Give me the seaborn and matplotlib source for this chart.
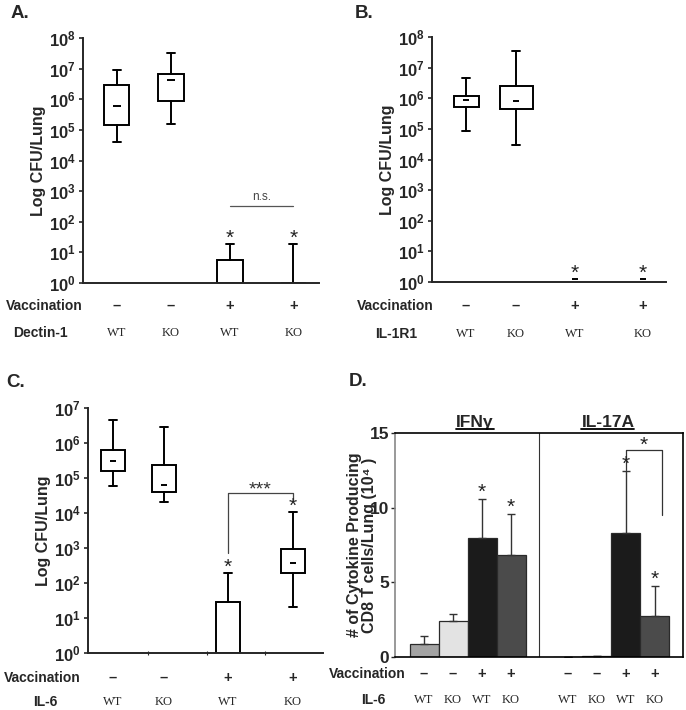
import numpy as np
import pandas as pd
import matplotlib
matplotlib.use('Agg')
import matplotlib.pyplot as plt
import matplotlib.transforms as mtrans
from matplotlib.ticker import LogLocator, FuncFormatter, NullLocator, FixedLocator
import seaborn as sns

sns.set_style('ticks')
plt.rcParams['font.family'] = ['Liberation Sans', 'DejaVu Sans']
plt.rcParams['mathtext.fontset'] = 'custom'
plt.rcParams['mathtext.rm'] = 'Liberation Sans:bold'
plt.rcParams['mathtext.bf'] = 'Liberation Sans:bold'
plt.rcParams['mathtext.it'] = 'Liberation Sans:bold:italic'

# ---- data ----
vaccination = ['–', '–', '+', '+']
genotype = ['WT', 'KO', 'WT', 'KO']

# A. Dectin-1 (CFU/lung, box summaries)
a_q1 = [1.4e5, 8.7e5, 1.0, 1.0]
a_q3 = [3.0e6, 6.8e6, 5.8, 1.0]
a_med = [6.2e5, 4.1e6, np.nan, np.nan]
a_lo = [4.0e4, 1.6e5, 1.0, 1.0]
a_hi = [8.7e6, 3.3e7, 19, 19]
a_star = [False, False, True, True]
a_ns_level = 330

# B. IL-1R1
b_q1 = [5.2e5, 4.6e5, np.nan, np.nan]
b_q3 = [1.2e6, 2.6e6, np.nan, np.nan]
b_med = [9.0e5, 8.0e5, 1.3, 1.3]
b_lo = [8.5e4, 2.9e4, np.nan, np.nan]
b_hi = [4.6e6, 3.6e7, np.nan, np.nan]
b_star = [False, False, True, True]

# C. IL-6
c_q1 = [1.6e5, 4.0e4, 1.0, 195]
c_q3 = [6.3e5, 2.3e5, 29, 930]
c_med = [3.1e5, 6.2e4, np.nan, 370]
c_lo = [5.9e4, 2.0e4, 1.0, 20]
c_hi = [4.5e6, 2.8e6, 195, 1.07e4]
c_star = [False, False, True, True]
c_bracket = [720, 3.7e4, 2.3e4]

# D. cytokine producing CD8 T cells (x10^4)
d_cytokine = ['IFNγ'] * 4 + ['IL-17A'] * 4
d_mean = [0.87, 2.43, 8.0, 6.85, 0.03, 0.05, 8.28, 2.77]
d_err = [0.56, 0.47, 2.58, 2.75, 0.0, 0.04, 4.15, 2.0]
d_star = [False, False, True, True, False, False, True, True]
d_colors = ['#a3a3a3', '#e3e3e3', '#1b1b1b', '#4b4b4b'] * 2
d_bracket = [12.5, 13.85, 9.5]

# ---- layout helpers (pixel based) ----
W, H = 686, 710
fig = plt.figure(figsize=(W / 100, H / 100), dpi=100)


def rect(l, t, r, b):
    return [l / W, 1 - b / H, (r - l) / W, (b - t) / H]


def fx(x):
    return x / W


def fy(y):
    return 1 - y / H


def row_labels(ax, pos, y_v, y_g, gene, xv, xg):
    tr = mtrans.blended_transform_factory(ax.transData, fig.transFigure)
    for p, v, g in zip(pos, vaccination * (len(pos) // 4), genotype * (len(pos) // 4)):
        ax.text(p, fy(y_v), v, transform=tr, ha='center', va='center',
                fontsize=10.5, fontweight='bold')
        ax.text(p, fy(y_g), g, transform=tr, ha='center', va='center',
                fontsize=9, family='Liberation Serif')
    fig.text(fx(xv), fy(y_v), 'Vaccination', ha='center', va='center',
             fontsize=10, fontweight='bold')
    fig.text(fx(xg), fy(y_g), gene, ha='center', va='center',
             fontsize=10, fontweight='bold')


def cfu_panel(ax, pos, widths, q1, q3, med, lo, hi, star, top, med_size):
    stats, keep = [], []
    for i in range(len(pos)):
        if np.isnan(q1[i]):
            continue
        stats.append(dict(med=med[i], q1=q1[i], q3=q3[i],
                          whislo=lo[i], whishi=hi[i]))
        keep.append(i)
    lw = 1.4
    ax.bxp(stats, positions=[pos[i] for i in keep],
           widths=[widths[i] for i in keep], showfliers=False,
           patch_artist=True, manage_ticks=False,
           capwidths=[0.15] * len(keep),
           boxprops=dict(facecolor='white', edgecolor='black', linewidth=lw),
           whiskerprops=dict(color='black', linewidth=lw),
           capprops=dict(color='black', linewidth=lw),
           medianprops=dict(linewidth=0))
    ax.scatter(pos, med, marker='_', s=med_size, color='black',
               linewidths=1.4, zorder=5)
    ax.set_yscale('log')
    ax.set_ylim(1, top)
    ax.set_xlim(0, 4.4)
    ax.yaxis.set_major_locator(LogLocator(base=10, numticks=20))
    ax.yaxis.set_minor_locator(NullLocator())
    ax.yaxis.set_major_formatter(
        FuncFormatter(lambda v, p: r'$\mathrm{10^{%d}}$' % round(np.log10(v))))
    ax.tick_params(axis='y', length=3, width=1.2, pad=2, labelsize=12)
    ax.set_xticks([])
    sns.despine(ax=ax)
    for s in ['left', 'bottom']:
        ax.spines[s].set_linewidth(1.4)
    ax.set_ylabel('Log CFU/Lung', fontsize=11.5, fontweight='bold', labelpad=2)
    for p, h, m, st in zip(pos, hi, med, star):
        if st:
            y = h if not np.isnan(h) else m
            ax.annotate('*', xy=(p, y), xytext=(0, -3), textcoords='offset points',
                        ha='center', va='bottom', fontsize=15, color='#222')


# ---- A ----
axA = fig.add_axes(rect(83, 38, 319, 283))
posA = [0.63, 1.64, 2.74, 3.92]
cfu_panel(axA, posA, [0.47] * 4, a_q1, a_q3, a_med, a_lo, a_hi, a_star, 1e8, 30)
axA.plot([posA[2], posA[3]], [a_ns_level] * 2, color='#555555', lw=0.9)
axA.annotate('n.s.', xy=((posA[2] + posA[3]) / 2, a_ns_level), xytext=(0, 2),
             textcoords='offset points', ha='center', va='bottom',
             fontsize=8.5, color='#444444')
row_labels(axA, posA, 306, 333, 'Dectin-1', 44, 40)
fig.text(fx(20), fy(14), 'A.', fontsize=13.5, fontweight='bold', ha='center', va='center')

# ---- B ----
axB = fig.add_axes(rect(432, 37, 666, 282))
posB = [0.64, 1.58, 2.69, 3.97]
cfu_panel(axB, posB, [0.47, 0.62, 0.47, 0.47], b_q1, b_q3, b_med, b_lo, b_hi,
          b_star, 1e8, 18)
row_labels(axB, posB, 306, 334, 'IL-1R1', 395, 396)
fig.text(fx(364), fy(14), 'B.', fontsize=13.5, fontweight='bold', ha='center', va='center')

# ---- C ----
axC = fig.add_axes(rect(88, 408, 323, 653))
posC = [0.47, 1.42, 2.62, 3.84]
cfu_panel(axC, posC, [0.45] * 4, c_q1, c_q3, c_med, c_lo, c_hi, c_star, 1e7, 14)
axC.xaxis.set_minor_locator(FixedLocator([1.12, 2.23, 3.31]))
axC.tick_params(axis='x', which='minor', length=3, width=0.8, direction='inout')
axC.plot([posC[2], posC[2], posC[3], posC[3]],
         [c_bracket[0], c_bracket[1], c_bracket[1], c_bracket[2]],
         color='#444444', lw=0.9)
axC.annotate('***', xy=((posC[2] + posC[3]) / 2, c_bracket[1]), xytext=(0, -4),
             textcoords='offset points', ha='center', va='bottom',
             fontsize=14, color='#333333')
row_labels(axC, posC, 678, 702, 'IL-6', 42, 45)
fig.text(fx(16), fy(383), 'C.', fontsize=13.5, fontweight='bold', ha='center', va='center')

# ---- D ----
axD = fig.add_axes(rect(395, 433, 683, 657))
posD = [1, 2, 3, 4, 5.95, 6.95, 7.95, 8.95]
dfD = pd.DataFrame({'pos': posD, 'mean': d_mean, 'err': d_err,
                    'cytokine': d_cytokine,
                    'bar': ['b%d' % i for i in range(len(posD))]})
sns.barplot(data=dfD, x='pos', y='mean', hue='bar',
            palette=dict(zip(dfD['bar'], d_colors)), native_scale=True,
            width=1, errorbar=None, legend=False, edgecolor='#2a2a2a',
            linewidth=0.9, ax=axD)
axD.errorbar(dfD['pos'], dfD['mean'], yerr=[np.zeros(len(posD)), dfD['err']],
             fmt='none', ecolor='#333333', elinewidth=1.0, capsize=3, capthick=1.0)
for p, m, e, st in zip(posD, d_mean, d_err, d_star):
    if st:
        axD.annotate('*', xy=(p, m + e), xytext=(0, -2), textcoords='offset points',
                     ha='center', va='bottom', fontsize=15, color='#222')
xb = [posD[6], posD[6], 9.2, 9.2]
axD.plot(xb, [d_bracket[0], d_bracket[1], d_bracket[1], d_bracket[2]],
         color='#333333', lw=0.9)
axD.annotate('*', xy=((posD[6] + 9.2) / 2, d_bracket[1]), xytext=(0, -3),
             textcoords='offset points', ha='center', va='bottom', fontsize=15,
             color='#222')
axD.axvline(4.97, color='#333333', lw=0.8)
axD.set_xlim(0, 9.93)
axD.set_ylim(0, 15)
axD.set_yticks([0, 5, 10, 15])
axD.set_xticks([])
axD.set_xlabel('')
axD.tick_params(axis='y', length=3, width=1.0, pad=1, labelsize=12.5)
for t in axD.get_yticklabels():
    t.set_fontweight('bold')
for s in axD.spines.values():
    s.set_linewidth(1.2)
    s.set_color('black')
axD.spines['left'].set_color('#888888')
axD.set_ylabel('# of Cytokine Producing\nCD8 T cells/Lung (10⁴ )', fontsize=11.5,
               fontweight='bold', linespacing=1.0)
axD.yaxis.set_label_coords(-0.062, 0.5)
titles = []
for name, cx in [('IFNγ', 2.76), ('IL-17A', 7.34)]:
    titles.append(axD.text(cx, 15.7, name, ha='center', va='center',
                           fontsize=12.5, fontweight='bold'))
row_labels(axD, posD, 674, 700, 'IL-6', 367, 373)
fig.text(fx(358), fy(382), 'D.', fontsize=13.5, fontweight='bold', ha='center', va='center')

# underline the cytokine titles
fig.canvas.draw()
inv = fig.transFigure.inverted()
for t in titles:
    bb = t.get_window_extent()
    (x0, y0), (x1, _) = inv.transform([(bb.x0, bb.y0 + 1), (bb.x1, bb.y0 + 1)])
    fig.add_artist(plt.Line2D([x0, x1], [y0, y0], color='black', lw=1.3))

fig.savefig('out.png', dpi=100)
